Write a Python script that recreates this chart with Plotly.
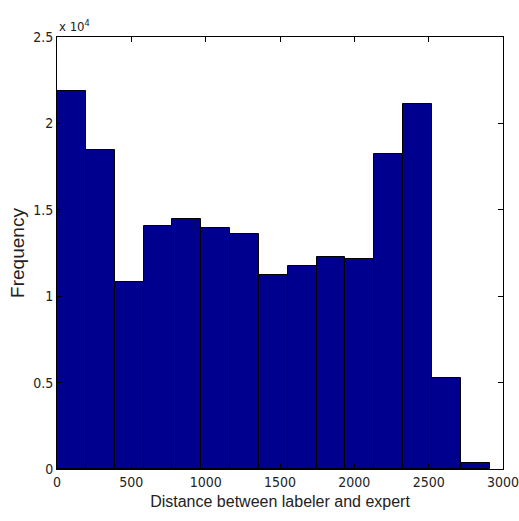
import numpy as np
import plotly.graph_objects as go

# Histogram data
bin_start = 0
bin_width = 194
counts = [21900, 18450, 10850, 14050, 14450, 13950, 13600, 11250,
          11750, 12250, 12150, 18250, 21100, 5280, 330]
x_ticks = [0, 500, 1000, 1500, 2000, 2500, 3000]
y_tickvals = [0, 5000, 10000, 15000, 20000, 25000]
y_ticktext = ["0", "0.5", "1", "1.5", "2", "2.5"]

centers = bin_start + bin_width * (np.arange(len(counts)) + 0.5)

NARROW = "Liberation Sans Narrow, Arial Narrow, DejaVu Sans Condensed, Liberation Sans, Arial, sans-serif"
REG = "Liberation Sans, Arial, sans-serif"

fig = go.Figure(go.Bar(
    x=centers, y=counts, width=bin_width,
    marker=dict(color="#00008F", line=dict(color="black", width=1)),
))

axis_common = dict(
    showgrid=False, zeroline=False, showline=True, linecolor="black",
    linewidth=1, mirror="ticks", ticks="inside", ticklen=5,
    tickcolor="black", automargin=False, ticklabeloverflow="allow",
    tickfont=dict(family=NARROW, size=14, color="#222"),
)

fig.update_layout(
    width=519, height=521,
    margin=dict(l=57, r=16, t=37, b=52),
    paper_bgcolor="white", plot_bgcolor="white",
    showlegend=False, bargap=0,
    xaxis=dict(range=[0, 3000], tickvals=x_ticks,
               title=dict(text="Distance between labeler and expert",
                          font=dict(family=REG, size=16, color="#222"),
                          standoff=7),
               **axis_common),
    yaxis=dict(range=[0, 25000], tickvals=y_tickvals, ticktext=y_ticktext,
               title=dict(text="Frequency",
                          font=dict(family=REG, size=19, color="#222"),
                          standoff=3),
               **axis_common),
    annotations=[dict(
        text="x 10<sup>4</sup>", xref="paper", yref="paper", x=0, y=1,
        xanchor="left", yanchor="bottom", showarrow=False, yshift=1,
        font=dict(family=NARROW, size=13, color="#222"),
    )],
)

fig.write_html("out.html")
